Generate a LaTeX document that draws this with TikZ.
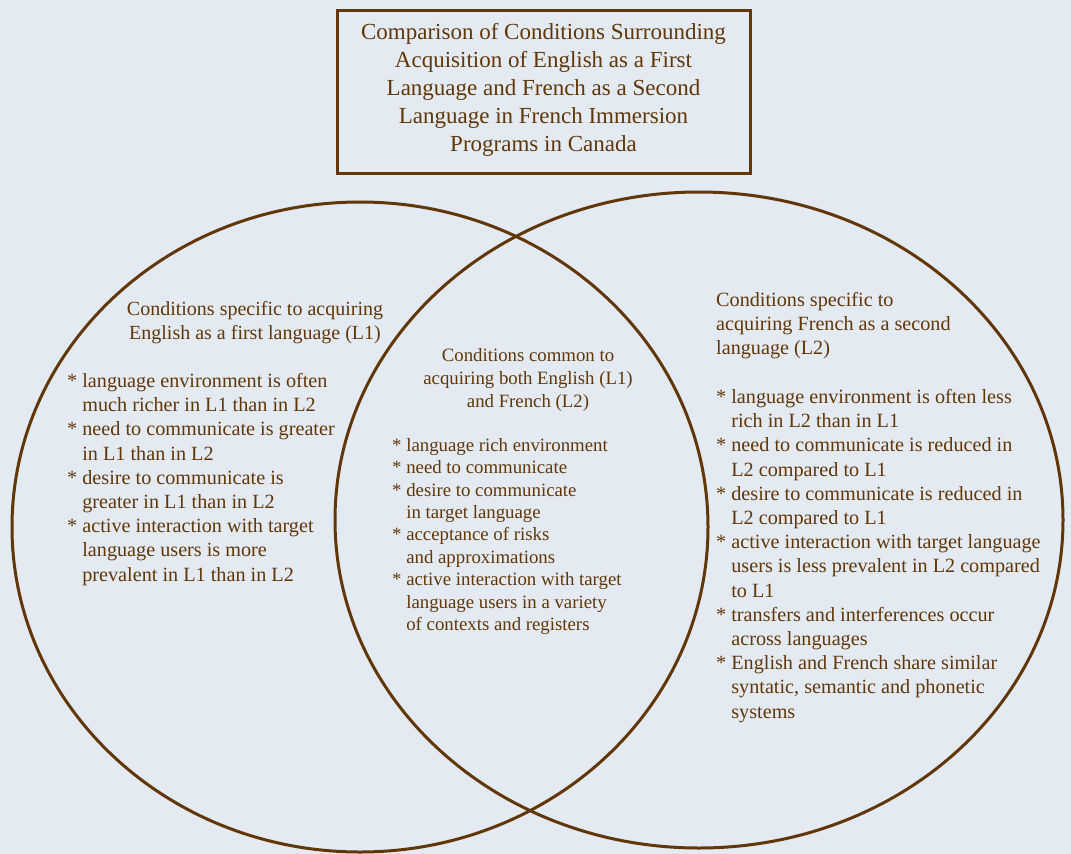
\documentclass[tikz,border=0pt]{standalone}
\usepackage{fontspec}
\setmainfont{Liberation Serif}
\usepackage{xcolor}
\usetikzlibrary{shapes.geometric,positioning}

\definecolor{venbrown}{HTML}{613708}
\definecolor{venback}{HTML}{E4EAF2}

\newcommand{\itm}{*\ }
\newcommand{\cont}{\hphantom{*\ }}

\begin{document}
\begin{tikzpicture}[
    x=1pt, y=-1pt,
    titlebox/.style={rectangle, draw=venbrown, line width=3pt, minimum width=413pt, minimum height=163pt, inner sep=0pt},
    circ/.style={ellipse, draw=venbrown, line width=3pt, inner sep=0pt},
    head/.style={text=venbrown, inner sep=0pt, font=\fontsize{20}{24.2}\selectfont},
    items/.style={text=venbrown, inner sep=0pt, align=left, anchor=north west, font=\fontsize{20.2}{24.2}\selectfont}
]
\useasboundingbox[fill=venback] (0,0) rectangle (1071,854);

% Title
\node[titlebox] (title) at (543.5,91.5) {};
\node[head, anchor=north, align=center, font=\fontsize{23}{28}\selectfont] (titletext) at (543.5,23) {Comparison of Conditions Surrounding\\Acquisition of English as a First\\Language and French as a Second\\Language in French Immersion\\Programs in Canada};

% Circles
\node[circ, minimum width=696pt, minimum height=650pt] (english) at (360,527) {};
\node[circ, minimum width=728pt, minimum height=656pt] (french) at (699,520) {};

% Left part
\node[head, anchor=north, align=center] (lhead) at (255,301) {Conditions specific to acquiring\\English as a first language (L1)};
\node[items] (litems) at (67,373) {\itm language environment is often\\
\cont much richer in L1 than in L2\\
\itm need to communicate is greater\\
\cont in L1 than in L2\\
\itm desire to communicate is\\
\cont greater in L1 than in L2\\
\itm active interaction with target\\
\cont language users is more\\
\cont prevalent in L1 than in L2};

% Common part
\node[head, anchor=north, align=center, font=\fontsize{18.8}{23}\selectfont] (chead) at (528,348) {Conditions common to\\acquiring both English (L1)\\and French (L2)};
\node[items, font=\fontsize{18.8}{22.4}\selectfont] (citems) at (392,438) {\itm language rich environment\\
\itm need to communicate\\
\itm desire to communicate\\
\cont in target language\\
\itm acceptance of risks\\
\cont and approximations\\
\itm active interaction with target\\
\cont language users in a variety\\
\cont of contexts and registers};

% Right part
\node[items] (rhead) at (716,292) {Conditions specific to\\acquiring French as a second\\language (L2)};
\node[items] (ritems) at (716,389) {\itm language environment is often less\\
\cont rich in L2 than in L1\\
\itm need to communicate is reduced in\\
\cont L2 compared to L1\\
\itm desire to communicate is reduced in\\
\cont L2 compared to L1\\
\itm active interaction with target language\\
\cont users is less prevalent in L2 compared\\
\cont to L1\\
\itm transfers and interferences occur\\
\cont across languages\\
\itm English and French share similar\\
\cont syntatic, semantic and phonetic\\
\cont systems};

\end{tikzpicture}
\end{document}
